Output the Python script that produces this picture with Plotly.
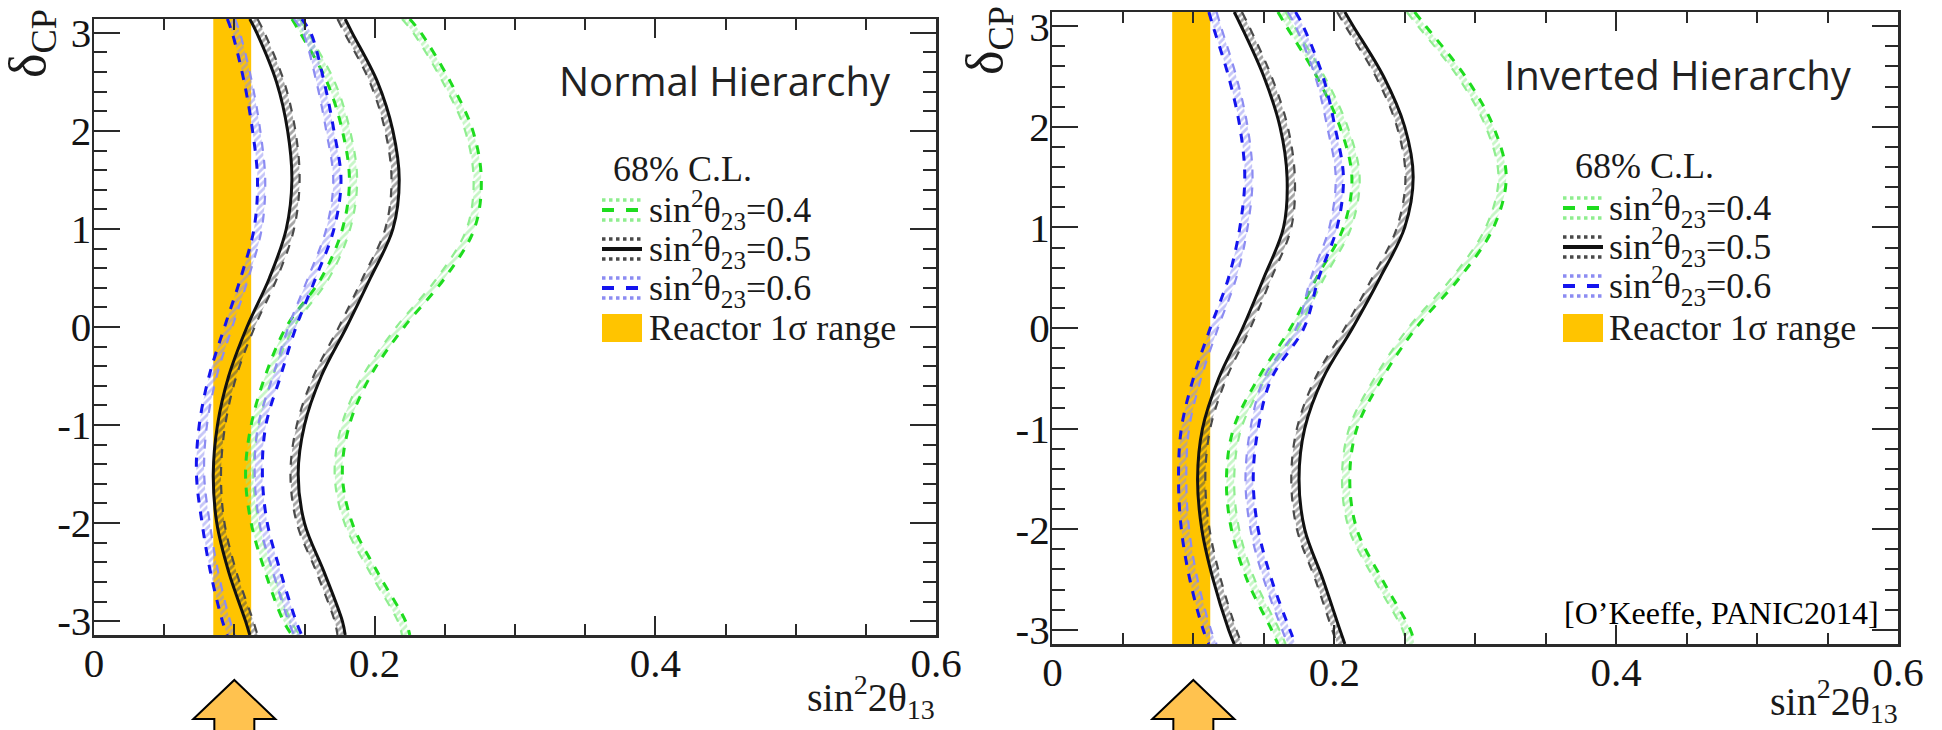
import numpy as np
import plotly.graph_objects as go

W, H = 1942, 730
PI = np.pi

# ---------------- data ----------------
delta_cp = [PI, 3.0, 2.5, 2.0, 1.5, 1.0, 0.5, 0.0, -0.5, -1.0, -1.5, -2.0, -2.5, -3.0, -PI]

# Normal hierarchy : left / right edges of the 68% C.L. regions
nh_s04_left = [0.141, 0.147, 0.166, 0.177, 0.182, 0.177, 0.162, 0.137, 0.122, 0.112, 0.108, 0.112, 0.122, 0.135, 0.141]
nh_s04_right = [0.225, 0.233, 0.254, 0.270, 0.276, 0.271, 0.250, 0.221, 0.197, 0.182, 0.177, 0.184, 0.202, 0.222, 0.225]
nh_s05_left = [0.111, 0.116, 0.130, 0.138, 0.141, 0.137, 0.125, 0.109, 0.096, 0.088, 0.085, 0.0875, 0.096, 0.108, 0.111]
nh_s05_right = [0.179, 0.184, 0.202, 0.213, 0.2175, 0.213, 0.197, 0.180, 0.162, 0.150, 0.1455, 0.150, 0.164, 0.177, 0.179]
nh_s06_left = [0.095, 0.0985, 0.107, 0.113, 0.1165, 0.114, 0.1045, 0.093, 0.082, 0.075, 0.073, 0.077, 0.083, 0.0915, 0.095]
nh_s06_right = [0.148, 0.1545, 0.164, 0.171, 0.176, 0.171, 0.158, 0.144, 0.133, 0.1225, 0.120, 0.1235, 0.133, 0.144, 0.148]

# Inverted hierarchy
ih_s04_left = [0.160, 0.166, 0.1875, 0.204, 0.2125, 0.2065, 0.1875, 0.169, 0.146, 0.1285, 0.1235, 0.127, 0.138, 0.1555, 0.160]
ih_s04_right = [0.257, 0.265, 0.293, 0.313, 0.322, 0.313, 0.289, 0.258, 0.234, 0.216, 0.211, 0.216, 0.234, 0.254, 0.257]
ih_s05_left = [0.129, 0.134, 0.150, 0.1615, 0.1665, 0.164, 0.150, 0.135, 0.118, 0.1065, 0.103, 0.106, 0.114, 0.125, 0.129]
ih_s05_right = [0.2075, 0.2135, 0.235, 0.250, 0.256, 0.250, 0.2325, 0.213, 0.192, 0.179, 0.175, 0.179, 0.192, 0.204, 0.2075]
ih_s06_left = [0.111, 0.114, 0.125, 0.133, 0.1365, 0.133, 0.125, 0.112, 0.100, 0.0915, 0.0895, 0.0915, 0.0975, 0.107, 0.111]
ih_s06_right = [0.1725, 0.178, 0.192, 0.2005, 0.2065, 0.202, 0.189, 0.1785, 0.1555, 0.146, 0.1425, 0.146, 0.1555, 0.1685, 0.1725]

reactor_range = [0.085, 0.112]
arrow_at = 0.1

x_ticks = [0, 0.2, 0.4, 0.6]
x_tick_labels = ["0", "0.2", "0.4", "0.6"]
y_ticks = [-3, -2, -1, 0, 1, 2, 3]
y_tick_labels = ["-3", "-2", "-1", "0", "1", "2", "3"]

legend_labels = ["sin<sup>2</sup>θ<sub>23</sub>=0.4", "sin<sup>2</sup>θ<sub>23</sub>=0.5",
                 "sin<sup>2</sup>θ<sub>23</sub>=0.6", "Reactor 1σ range"]

# ---------------- styles ----------------
GREEN, GREEN_L = "#1EDC1E", "#8FEE8F"
BLUE, BLUE_L = "#1414EE", "#8C8CF2"
BLACK, BLACK_L = "#111111", "#4a4a4a"
ORANGE = "#FFC400"
ARROW = "#FFC24F"
FRAME = "#2a2a2a"
SERIF = "Liberation Serif"
SANS = "Open Sans"
HW = 0.0055  # hatch band width (x units)


def px(x):
    return x / W


def py(y):
    return 1 - y / H


fig = go.Figure()

panels = [
    dict(xa="x", ya="y", xdom=(94, 936), ydom=(19, 635),
         series=[(nh_s04_left, nh_s04_right, GREEN, GREEN_L, "dash"),
                 (nh_s05_left, nh_s05_right, BLACK, BLACK_L, "solid"),
                 (nh_s06_left, nh_s06_right, BLUE, BLUE_L, "dash")]),
    dict(xa="x2", ya="y2", xdom=(1052.4, 1898), ydom=(12, 644),
         series=[(ih_s04_left, ih_s04_right, GREEN, GREEN_L, "dash"),
                 (ih_s05_left, ih_s05_right, BLACK, BLACK_L, "solid"),
                 (ih_s06_left, ih_s06_right, BLUE, BLUE_L, "dash")]),
]

common = dict(mode="lines", hoverinfo="skip", showlegend=False)

for p in panels:
    xa, ya = p["xa"], p["ya"]
    r0, r1 = reactor_range
    fig.add_trace(go.Scatter(x=[r0, r1, r1, r0], y=[-PI, -PI, PI, PI], fill="toself",
                             fillcolor=ORANGE, line=dict(width=0), xaxis=xa, yaxis=ya, **common))
    for lo, hi, col, lcol, dash in p["series"]:
        for edge, sign in ((lo, 1), (hi, -1)):
            inner = [v + sign * HW for v in edge]
            fig.add_trace(go.Scatter(x=inner, y=delta_cp, xaxis=xa, yaxis=ya,
                                     line=dict(color=lcol, width=2.2, dash="dash", shape="spline"),
                                     **common))
            fig.add_trace(go.Scatter(x=edge, y=delta_cp, xaxis=xa, yaxis=ya, fill="tonextx",
                                     fillcolor="rgba(0,0,0,0)",
                                     fillpattern=dict(shape="/", fgcolor=lcol, size=5, solidity=0.55),
                                     line=dict(color=col, width=3, dash=dash, shape="spline"),
                                     **common))

axis_common = dict(showline=True, linecolor=FRAME, linewidth=2.5, mirror="allticks",
                   ticks="inside", tickcolor=FRAME, tickwidth=2, showgrid=False, zeroline=False,
                   automargin=False,
                   tickfont=dict(family=SERIF, size=41, color="#141414"), fixedrange=True)

layout = dict(width=W, height=H, margin=dict(l=0, r=0, t=0, b=0, pad=0), autosize=False,
              paper_bgcolor="white", plot_bgcolor="white", showlegend=False,
              font=dict(family=SERIF, size=36, color="#1a1a1a"))

for i, p in enumerate(panels):
    sfx = "" if i == 0 else "2"
    x0, x1 = p["xdom"]
    y0, y1 = p["ydom"]
    layout["xaxis" + sfx] = dict(axis_common, domain=[px(x0), px(x1)], range=[0, 0.6],
                                 tickmode="array", tickvals=x_ticks, ticktext=x_tick_labels,
                                 ticklen=19, ticklabelstandoff=-10, anchor="y" + sfx,
                                 minor=dict(tickmode="array", tickvals=list(np.round(np.arange(0, 0.601, 0.05), 3)),
                                            ticks="inside", ticklen=11, tickwidth=2, tickcolor=FRAME))
    layout["yaxis" + sfx] = dict(axis_common, domain=[py(y1), py(y0)], range=[-PI, PI],
                                 tickmode="array", tickvals=y_ticks, ticktext=y_tick_labels,
                                 ticklen=26, ticklabelstandoff=-8, anchor="x" + sfx,
                                 minor=dict(tickmode="array",
                                            tickvals=[v for v in np.round(np.arange(-3.0, 3.01, 0.2), 2)
                                                      if abs(v - round(v)) > 1e-6],
                                            ticks="inside", ticklen=13, tickwidth=2, tickcolor=FRAME))

fig.update_layout(**layout)

ann = []
shapes = []


def text(x, y, s, size, family=SERIF, color="#1a1a1a", xanchor="left", yanchor="middle", angle=0):
    ann.append(dict(x=px(x), y=py(y), xref="paper", yref="paper", text=s, showarrow=False,
                    xanchor=xanchor, yanchor=yanchor, textangle=angle,
                    font=dict(family=family, size=size, color=color)))


# titles / labels per panel
panel_text = [
    dict(title="Normal Hierarchy", tx=557, ty=80, cl=(611, 169), sym_x=602, txt_x=647,
         rows=[210, 249, 288, 328], xt=(937, 697), dcp=(32, 44)),
    dict(title="Inverted Hierarchy", tx=1502, ty=74, cl=(1573, 166), sym_x=1563, txt_x=1607,
         rows=[208, 247, 286, 328], xt=(1900, 701), dcp=(988, 41)),
]
legend_styles = [(GREEN, GREEN_L, "dash"), (BLACK, BLACK_L, "solid"), (BLUE, BLUE_L, "dash")]

for pt in panel_text:
    text(pt["tx"], pt["ty"], pt["title"], 40, family=SANS, color="#222222")
    text(pt["cl"][0], pt["cl"][1], "68% C.L.", 36)
    sx = pt["sym_x"]
    for k, lab in enumerate(legend_labels):
        yc = pt["rows"][k]
        text(pt["txt_x"], yc, lab, 36)
        if k < 3:
            col, lcol, dash = legend_styles[k]
            for dy, c, w, d in ((-10, lcol, 3.5, "dot"), (10, lcol, 3.5, "dot"), (0, col, 4, dash)):
                shapes.append(dict(type="line", xref="paper", yref="paper",
                                   x0=px(sx), x1=px(sx + 40), y0=py(yc + dy), y1=py(yc + dy),
                                   line=dict(color=c, width=w, dash=d)))
        else:
            shapes.append(dict(type="rect", xref="paper", yref="paper",
                               x0=px(sx), x1=px(sx + 40), y0=py(yc + 14), y1=py(yc - 14),
                               fillcolor=ORANGE, line=dict(width=0)))
    text(pt["xt"][0], pt["xt"][1], "sin<sup>2</sup>2θ<sub>13</sub>", 40, xanchor="right")
    text(pt["dcp"][0], pt["dcp"][1], "δ<sub>CP</sub>", 52, xanchor="center", angle=-90)

text(1562, 613, "[O’Keeffe, PANIC2014]", 32, color="#000000")

# arrows pointing at the reactor value, below each panel
for p in panels:
    x0, x1 = p["xdom"]
    cx = x0 + (x1 - x0) * arrow_at / 0.6
    tip, base, bottom = 680, 719, 740
    hw, sw = 41, 20
    pts = [(cx, tip), (cx + hw, base), (cx + sw, base), (cx + sw, bottom),
           (cx - sw, bottom), (cx - sw, base), (cx - hw, base)]
    path = "M " + " L ".join(f"{px(a):.5f},{py(b):.5f}" for a, b in pts) + " Z"
    shapes.append(dict(type="path", xref="paper", yref="paper", path=path,
                       fillcolor=ARROW, line=dict(color="black", width=2)))

fig.update_layout(annotations=ann, shapes=shapes)
fig.write_html("out.html", config={"displayModeBar": False, "staticPlot": True},
               post_script="document.body.style.margin='0';document.body.style.padding='0';"
                           "document.documentElement.style.overflow='hidden';")
